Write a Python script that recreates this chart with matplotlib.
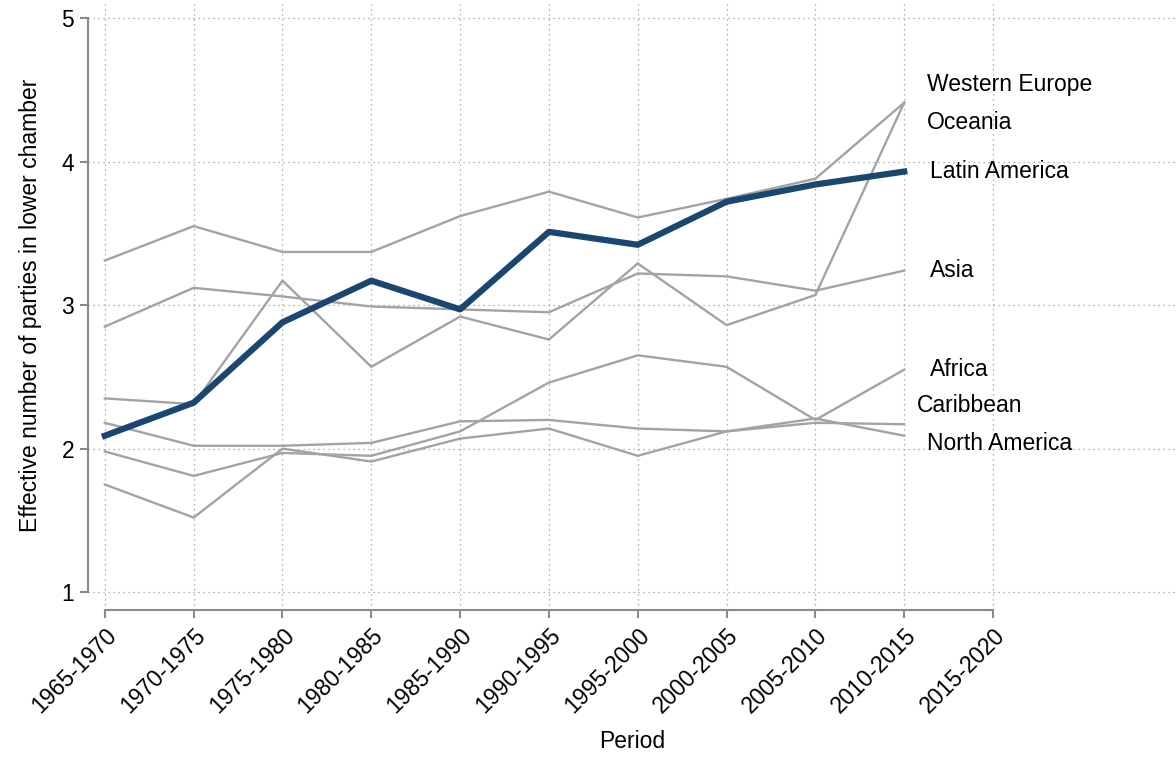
import numpy as np
import matplotlib.pyplot as plt
import matplotlib.transforms as mtransforms

plt.rcParams['font.family'] = ['Liberation Sans', 'DejaVu Sans']

periods = ['1965-1970', '1970-1975', '1975-1980', '1980-1985', '1985-1990',
           '1990-1995', '1995-2000', '2000-2005', '2005-2010', '2010-2015',
           '2015-2020']

western_europe = [3.31, 3.55, 3.37, 3.37, 3.62, 3.79, 3.61, 3.74, 3.88, 4.41]
oceania = [2.35, 2.31, 3.17, 2.57, 2.92, 2.76, 3.29, 2.86, 3.07, 4.41]
latin_america = [2.09, 2.32, 2.88, 3.17, 2.97, 3.51, 3.42, 3.72, 3.84, 3.93]
asia = [2.85, 3.12, 3.06, 2.99, 2.97, 2.95, 3.22, 3.20, 3.10, 3.24]
africa = [1.98, 1.81, 1.97, 1.95, 2.12, 2.46, 2.65, 2.57, 2.20, 2.55]
caribbean = [2.18, 2.02, 2.02, 2.04, 2.19, 2.20, 2.14, 2.12, 2.18, 2.17]
north_america = [1.75, 1.52, 2.00, 1.91, 2.07, 2.14, 1.95, 2.12, 2.21, 2.09]

gray = '#a3a3a3'
navy = '#1a476f'
fs = 16.5

fig = plt.figure(figsize=(11.76, 7.57), dpi=100)
ax = fig.add_axes([0.0748, 0.194, 0.9252, 0.806])

x = np.arange(len(western_europe))

# (series, label, pixel offset of the label from the last point)
series = [
    (western_europe, 'Western Europe', (23, 18)),
    (oceania, 'Oceania', (23, -20)),
    (asia, 'Asia', (26, 0)),
    (africa, 'Africa', (26, 0)),
    (caribbean, 'Caribbean', (13, 19)),
    (north_america, 'North America', (23, -8)),
]
for vals, name, off in series:
    ax.plot(x, vals, color=gray, lw=1.7, zorder=2)
    ax.annotate(name, (x[-1], vals[-1]), xytext=off, textcoords='offset pixels',
                ha='left', va='center', fontsize=fs)

ax.plot(x, latin_america, color=navy, lw=4.5, zorder=3)
ax.annotate('Latin America', (x[-1], latin_america[-1]), xytext=(26, 0),
            textcoords='offset pixels', ha='left', va='center', fontsize=fs)

ax.set_xlim(-0.19, 12.06)
ax.set_ylim(0.875, 5.125)
ax.set_xticks(np.arange(len(periods)))
ax.set_xticklabels(periods, rotation=45, ha='right', va='top',
                   rotation_mode='anchor')
shift = mtransforms.ScaledTranslation(-6 / 100, -2 / 100, fig.dpi_scale_trans)
for lab in ax.get_xticklabels():
    lab.set_transform(lab.get_transform() + shift)
ax.set_yticks([1, 2, 3, 4, 5])

ax.grid(True, linestyle=(0, (1, 3)), color='#9a9a9a', lw=0.9)
ax.set_axisbelow(True)

for s in ['top', 'right']:
    ax.spines[s].set_visible(False)
for s in ['left', 'bottom']:
    ax.spines[s].set_color('#8a8a8a')
    ax.spines[s].set_linewidth(1.5)
ax.spines['left'].set_bounds(1, 5)
ax.spines['bottom'].set_bounds(0, 10)

ax.tick_params(axis='both', direction='out', length=6, width=1.5,
               color='#8a8a8a', labelsize=fs, pad=4)

ax.set_xlabel('Period', fontsize=fs, labelpad=9)
ax.set_ylabel('Effective number of parties in lower chamber', fontsize=fs,
              labelpad=14)

fig.savefig('out.png', dpi=100)
